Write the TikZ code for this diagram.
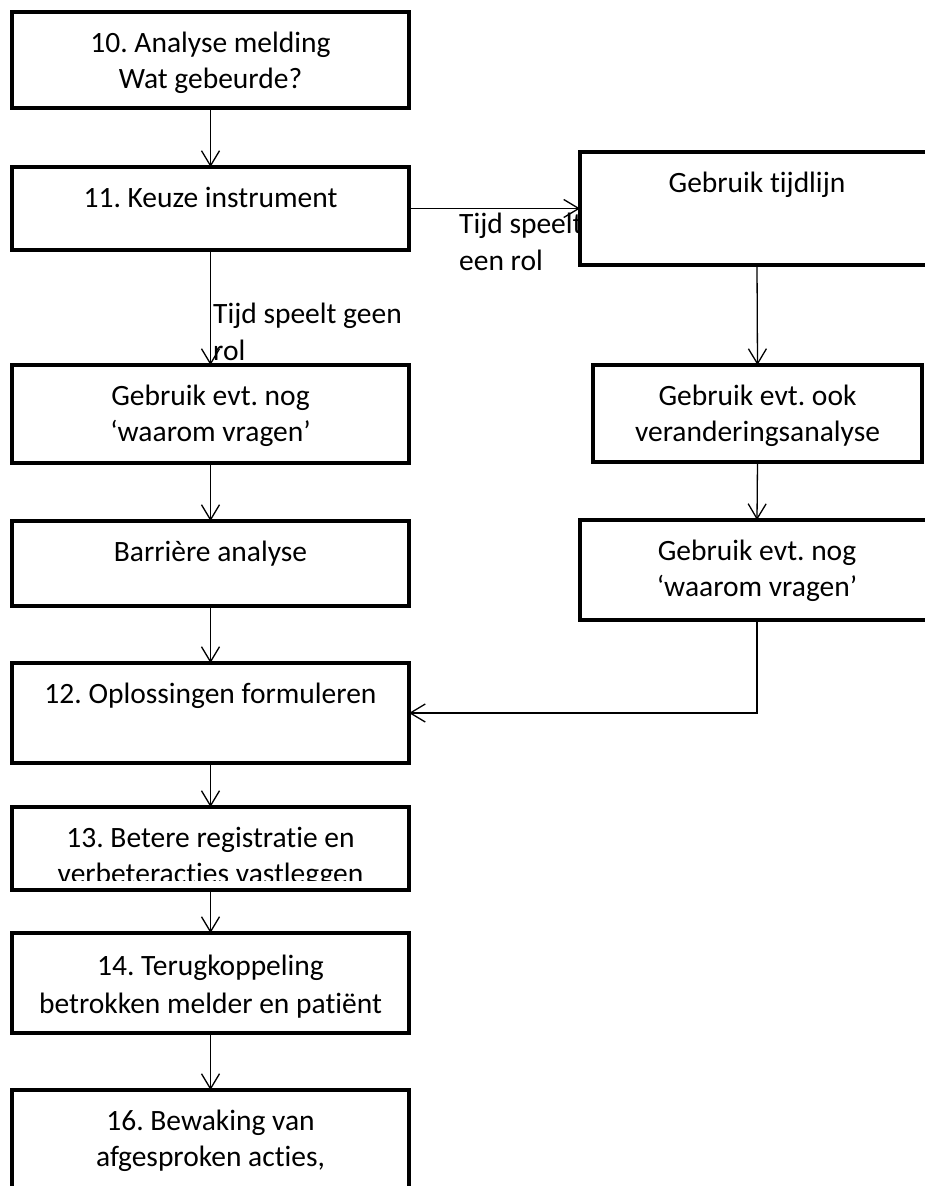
\documentclass[tikz,border=0pt]{standalone}
\usepackage{fontspec}
\setmainfont[Ligatures=NoCommon]{Carlito}
\usetikzlibrary{arrows.meta}
\frenchspacing
\begin{document}
\begin{tikzpicture}[x=1pt,y=-1pt,
  box/.style={draw=black, line width=4.5pt, fill=white, inner sep=0pt, outer sep=0pt},
  txt/.style={anchor=north, align=center, inner sep=0pt, font=\fontsize{29.5pt}{36pt}\selectfont},
  lbl/.style={anchor=north west, align=left, inner sep=0pt, font=\fontsize{29.5pt}{37pt}\selectfont},
  arr/.style={line width=1.3pt, -{Straight Barb[length=15pt,width=18pt,line width=1.3pt]}}
]
\useasboundingbox[fill=white] (0,0) rectangle (924,1186);

% labels drawn first (partly covered by the box on the right)
\node[lbl] (l1) at (459,207) {\strut Tijd speelt\\een rol};
\node[lbl] (l2) at (213,297) {\strut Tijd speelt geen\\rol};

% left column
\node[box, minimum width=397pt, minimum height=96pt]  (b1) at (210.5,60)    {};
\node[box, minimum width=397pt, minimum height=83pt]  (b2) at (210.5,208.5) {};
\node[box, minimum width=397pt, minimum height=98pt]  (b3) at (210.5,414)   {};
\node[box, minimum width=397pt, minimum height=85pt]  (b4) at (210.5,563.5) {};
\node[box, minimum width=397pt, minimum height=100pt] (b5) at (210.5,713)   {};
\node[box, minimum width=397pt, minimum height=83pt]  (b6) at (210.5,848.5) {};
\node[box, minimum width=397pt, minimum height=100pt] (b7) at (210.5,983)   {};
\node[box, minimum width=397pt, minimum height=110pt] (b8) at (210.5,1145)  {};

% right column
\node[box, minimum width=354pt, minimum height=113pt] (r1) at (757,208.5)   {};
\node[box, minimum width=329pt, minimum height=97pt]  (r2) at (757.5,413.5) {};
\node[box, minimum width=354pt, minimum height=100pt] (r3) at (757,570)     {};

% texts
\node[txt] (t1) at ([yshift=-15.3pt]b1.north) {\strut 10. Analyse melding\\Wat gebeurde?};
\node[txt] (t2) at ([yshift=-15.3pt]b2.north) {\strut 11. Keuze instrument};
\node[txt] (t3) at ([yshift=-15.3pt]b3.north) {\strut Gebruik evt. nog\\‘waarom vragen’};
\node[txt] (t4) at ([yshift=-15.3pt]b4.north) {\strut Barrière analyse};
\node[txt] (t5) at ([yshift=-15.3pt]b5.north) {\strut 12. Oplossingen formuleren};
\begin{scope}
  \clip (12,807) rectangle (409,880);
  \node[txt] (t6) at ([yshift=-15.3pt]b6.north) {\strut 13. Betere registratie en\\verbeteracties vastleggen};
\end{scope}
\node[txt, font=\fontsize{29.5pt}{38pt}\selectfont] (t7) at ([yshift=-15.3pt]b7.north) {\strut 14. Terugkoppeling\\betrokken melder en patiënt};
\node[txt] (t8) at ([yshift=-15.3pt]b8.north) {\strut 16. Bewaking van\\afgesproken acties,};
\node[txt] (s1) at ([yshift=-15.3pt]r1.north) {\strut Gebruik tijdlijn};
\node[txt] (s2) at ([yshift=-15.3pt]r2.north) {\strut Gebruik evt. ook\\veranderingsanalyse};
\node[txt] (s3) at ([yshift=-15.3pt]r3.north) {\strut Gebruik evt. nog\\‘waarom vragen’};

% connectors
\draw[arr] (b1.south) -- (b2.north);
\draw[arr] (b2.east) -- (r1.west);
\draw[arr] (b2.south) -- (b3.north);
\draw[arr] (b3.south) -- (b4.north);
\draw[arr] (b4.south) -- (b5.north);
\draw[arr] (b5.south) -- (b6.north);
\draw[arr] (b6.south) -- (b7.north);
\draw[arr] (b7.south) -- (b8.north);
\draw[arr] (r1.south) -- (r2.north);
\draw[arr] (r2.south) -- (r3.north);
\draw[arr] (r3.south) |- (b5.east);
\end{tikzpicture}
\end{document}
